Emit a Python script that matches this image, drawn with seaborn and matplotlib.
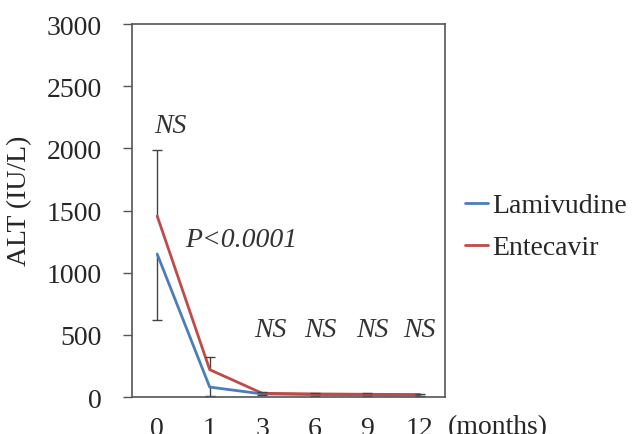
import numpy as np
import pandas as pd
import matplotlib
matplotlib.use("Agg")
import matplotlib.pyplot as plt
import seaborn as sns

# valores
months = ["0", "1", "3", "6", "9", "12"]
lamivudine = [1150, 80, 25, 20, 18, 15]
entecavir = [1456, 220, 30, 25, 22, 20]
lamivudine_sd = [530, 70, 12, 10, 10, 8]
entecavir_sd = [530, 100, 12, 10, 10, 8]
ns_labels = ["NS", "NS", "NS", "NS"]

pos = np.arange(len(months))
df = pd.DataFrame({
    "pos": np.concatenate([pos, pos]),
    "ALT": lamivudine + entecavir,
    "Grupo": ["Lamivudine"] * len(months) + ["Entecavir"] * len(months),
})

sns.set_style("ticks")
plt.rcParams["font.family"] = ["Liberation Serif", "DejaVu Serif"]
plt.rcParams["font.size"] = 20

fig = plt.figure(figsize=(6.33, 4.35), dpi=100)
ax = fig.add_axes([0.2085, 0.085, 0.4945, 0.8575])

cores = {"Lamivudine": "#4A7EBB", "Entecavir": "#BE4B48"}
sns.lineplot(data=df, x="pos", y="ALT", hue="Grupo", palette=cores,
             linewidth=2, legend=False, ax=ax)

# barras de erro: Entecavir para cima, Lamivudine para baixo
ent = np.array(entecavir)
lam = np.array(lamivudine)
zero = np.zeros(len(months))
ax.errorbar(pos, ent, yerr=[zero, np.array(entecavir_sd)], fmt="none",
            ecolor="#444444", elinewidth=1, capsize=0, zorder=1)
ax.errorbar(pos, lam, yerr=[np.array(lamivudine_sd), zero], fmt="none",
            ecolor="#444444", elinewidth=1, capsize=0, zorder=1)
ax.plot(pos, ent + np.array(entecavir_sd), ls="none", marker="_", ms=7,
        mew=1, color="#444444")
ax.plot(pos, lam - np.array(lamivudine_sd), ls="none", marker="_", ms=7,
        mew=1, color="#444444")

ax.set_xlim(-0.48, 5.48)
ax.set_ylim(0, 3000)
ax.set_yticks(range(0, 3001, 500))
ax.set_xticks(pos)
ax.set_xticklabels(months)
ax.tick_params(axis="x", length=0, pad=14, labelsize=20)
ax.tick_params(axis="y", length=6.5, width=1, pad=15, labelsize=20,
               color="#555555")
for s in ax.spines.values():
    s.set_visible(True)
    s.set_color("#555555")
    s.set_linewidth(1.2)

ax.set_xlabel("")
ax.set_ylabel("ALT (IU/L)", fontsize=20)
ax.yaxis.set_label_coords(-0.32, 0.53)

ax.text(5.54, -0.045, "(months)", transform=ax.get_xaxis_transform(),
        ha="left", va="top", fontsize=20)

# anotações estatísticas
ital = dict(fontsize=20, style="italic", color="#333333", ha="center", va="center")
ax.text(0.25, 2180, "NS", **ital)
ax.text(1.6, 1270, "P<0.0001", **ital)
for x, t in zip([2.15, 3.1, 4.1, 5.0], ns_labels):
    ax.text(x, 540, t, **ital)

linhas = ax.get_lines()[:2]
ax.legend(linhas, ["Lamivudine", "Entecavir"], loc="center left",
          bbox_to_anchor=(1.064, 0.457), frameon=False, fontsize=20,
          handlelength=0.82, handletextpad=0.15, labelspacing=0.6,
          borderpad=0, borderaxespad=0)

fig.savefig("out.png", dpi=100)
